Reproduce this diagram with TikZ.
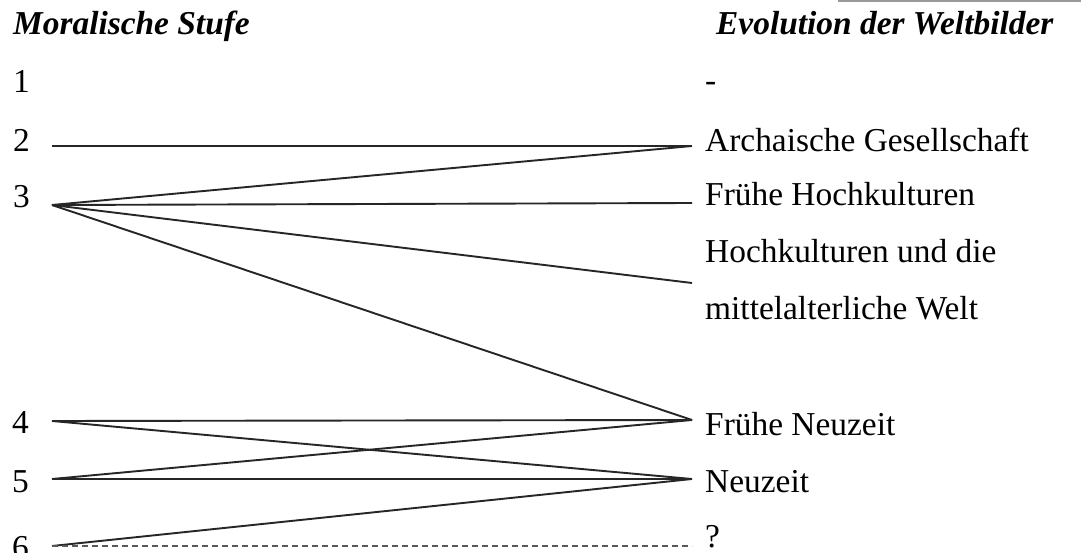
\documentclass[tikz,border=0pt]{standalone}
\usepackage{fontspec}
\setmainfont{Liberation Serif}
\begin{document}
\begin{tikzpicture}[x=1pt,y=-1pt,
  lbl/.style={anchor=base west,inner sep=0pt,font=\fontsize{33.4}{40}\selectfont},
  head/.style={lbl,font=\fontsize{33.4}{40}\selectfont\bfseries\itshape},
  conn/.style={line width=1.9pt,draw=black!85},
  dconn/.style={line width=1.4pt,draw=black!65,dash pattern=on 6pt off 4pt}]
\useasboundingbox (0,0) rectangle (1081,553);
\fill[white] (0,0) rectangle (1081,553);
\draw[black!40,line width=3pt] (838,1) -- (1081,1);
% headings
\node[head] (h1) at (13,35) {Moralische Stufe};
\node[head] (h2) at (716,35) {Evolution der Weltbilder};
% left numbers
\node[lbl] (n1) at (13,93) {1};
\node[lbl] (n2) at (13,152) {2};
\node[lbl] (n3) at (13,208) {3};
\node[lbl] (n4) at (12,433) {4};
\node[lbl] (n5) at (12,492) {5};
\node[lbl] (n6) at (12,558) {6};
% right labels
\node[lbl] (r1) at (705,92) {-};
\node[lbl] (r2) at (705,152) {Archaische Gesellschaft};
\node[lbl] (r3) at (705,206) {Frühe Hochkulturen};
\node[lbl] (r4) at (705,263) {Hochkulturen und die};
\node[lbl] (r4b) at (705,319) {mittelalterliche Welt};
\node[lbl] (r5) at (705,435) {Frühe Neuzeit};
\node[lbl] (r6) at (705,492) {Neuzeit};
\node[lbl] (r7) at (705,547) {?};
% connector ends
\coordinate (a2) at (52,146);
\coordinate (a3) at (52,205);
\coordinate (a4) at (52,421);
\coordinate (a5) at (52,479);
\coordinate (a6) at (52,546);
\coordinate (b2) at (692,146);
\coordinate (b3) at (692,203);
\coordinate (b4) at (692,283);
\coordinate (b5) at (692,420);
\coordinate (b6) at (692,479);
\coordinate (b7) at (692,546);
% connectors
\draw[conn] (a2) -- (b2);
\draw[conn] (a3) -- (b2);
\draw[conn] (a3) -- (b3);
\draw[conn] (a3) -- (b4);
\draw[conn] (a3) -- (b5);
\draw[conn] (a4) -- (b5);
\draw[conn] (a4) -- (b6);
\draw[conn] (a5) -- (b5);
\draw[conn] (a5) -- (b6);
\draw[conn] (a6) -- (b6);
\draw[dconn] (a6) -- (b7);
\end{tikzpicture}
\end{document}
